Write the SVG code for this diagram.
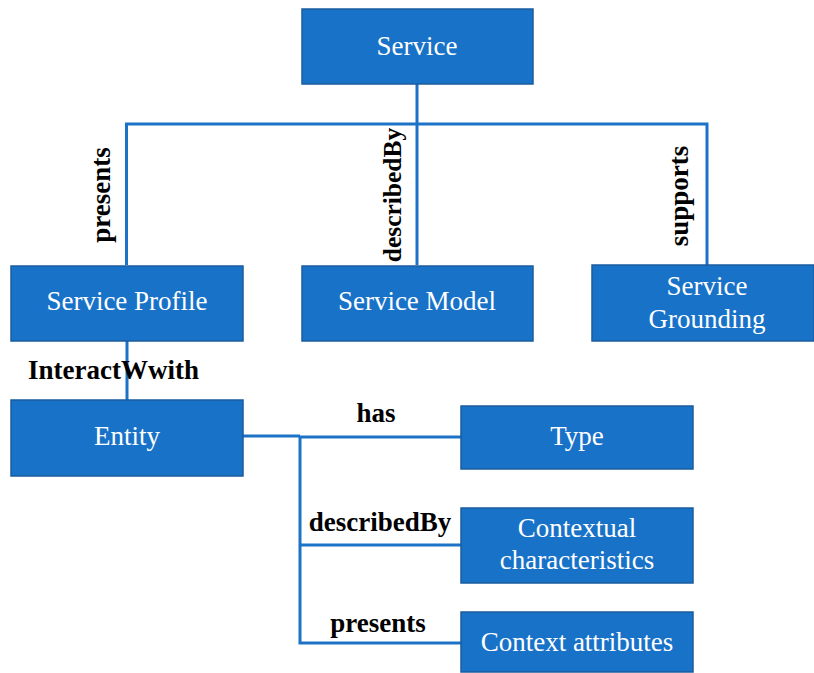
<svg xmlns="http://www.w3.org/2000/svg" width="814" height="673" viewBox="0 0 814 673">
  <style>
    .box { fill: #1872c8; stroke: #1b5c9e; stroke-width: 1.5; }
    .name { font-family: "Liberation Serif", "Times New Roman", serif; font-size: 27px; fill: #ffffff; text-anchor: middle; }
    .edge { fill: none; stroke: #1b72c6; stroke-width: 3; }
    .rel { font-family: "Liberation Serif", "Times New Roman", serif; font-size: 27px; font-weight: bold; fill: #000000; }
  </style>
  <rect width="814" height="673" fill="#ffffff"/>

  <g id="connectors">
    <path class="edge" d="M417 84 V265"/>
    <path class="edge" d="M126.5 265 V124 H707 V265"/>
    <path class="edge" d="M127 341 V400"/>
    <path class="edge" d="M243 436 H300 M300 437 H461 M300 436 V643 H461 M300 545 H461"/>
  </g>

  <g id="labels">
    <text class="rel" transform="translate(110,195) rotate(-90)" text-anchor="middle">presents</text>
    <text class="rel" transform="translate(401,195) rotate(-90)" text-anchor="middle" style="font-size:25.5px">describedBy</text>
    <text class="rel" transform="translate(688,196) rotate(-90)" text-anchor="middle">supports</text>
    <text class="rel" x="28" y="379">InteractWwith</text>
    <text class="rel" x="376" y="422" text-anchor="middle">has</text>
    <text class="rel" x="380" y="531" text-anchor="middle">describedBy</text>
    <text class="rel" x="378" y="632" text-anchor="middle">presents</text>
  </g>

  <g id="service">
    <rect class="box" x="302" y="9" width="231" height="75"/>
    <text class="name" x="417" y="55">Service</text>
  </g>
  <g id="service-profile">
    <rect class="box" x="11" y="266" width="232" height="75"/>
    <text class="name" x="127" y="310">Service Profile</text>
  </g>
  <g id="service-model">
    <rect class="box" x="302" y="266" width="231" height="75"/>
    <text class="name" x="417" y="310">Service Model</text>
  </g>
  <g id="service-grounding">
    <rect class="box" x="592" y="265" width="222" height="76"/>
    <text class="name" x="707" y="295">Service</text>
    <text class="name" x="707" y="328">Grounding</text>
  </g>
  <g id="entity">
    <rect class="box" x="11" y="400" width="232" height="76"/>
    <text class="name" x="127" y="445">Entity</text>
  </g>
  <g id="type">
    <rect class="box" x="461" y="406" width="232" height="63"/>
    <text class="name" x="577" y="445">Type</text>
  </g>
  <g id="contextual-characteristics">
    <rect class="box" x="461" y="508" width="232" height="75"/>
    <text class="name" x="577" y="537">Contextual</text>
    <text class="name" x="577" y="569">characteristics</text>
  </g>
  <g id="context-attributes">
    <rect class="box" x="461" y="612" width="232" height="60"/>
    <text class="name" x="577" y="651">Context attributes</text>
  </g>
</svg>
